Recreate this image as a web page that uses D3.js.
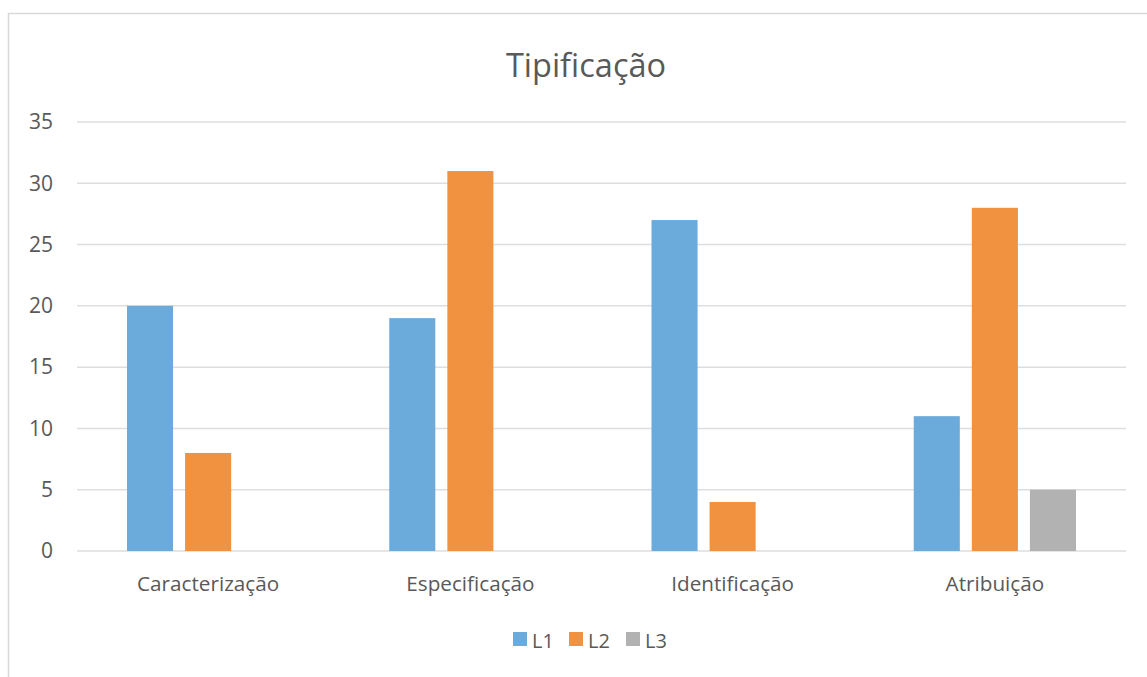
<!DOCTYPE html>
<html>
<head>
<meta charset="utf-8">
<script src="https://cdn.jsdelivr.net/npm/d3@7"></script>
<style>
  html, body { margin: 0; padding: 0; background: #fff; }
  svg { display: block; }
  text { font-family: "Open Sans", "DejaVu Sans", sans-serif; fill: #595959; }
</style>
</head>
<body>
<svg id="chart" width="1147" height="677"></svg>
<script>
// Chart data
const title = "Tipificação";
const categories = ["Caracterização", "Especificação", "Identificação", "Atribuição"];
const seriesNames = ["L1", "L2", "L3"];
const valuesL1 = [20, 19, 27, 11];
const valuesL2 = [8, 31, 4, 28];
const valuesL3 = [0, 0, 0, 5];
const yTicks = [0, 5, 10, 15, 20, 25, 30, 35];
const colors = ["#6aabdb", "#f19240", "#b2b2b2"];

const seriesValues = [valuesL1, valuesL2, valuesL3];

const W = 1147, H = 677;
const plot = { left: 77, right: 1126, top: 122, bottom: 551 };

const svg = d3.select("#chart");

// Outer chart border
svg.append("rect")
  .attr("x", 8.5).attr("y", 13.5)
  .attr("width", W + 20).attr("height", H + 20)
  .attr("fill", "none")
  .attr("stroke", "#d9d9d9")
  .attr("stroke-width", 1.5);

const y = d3.scaleLinear().domain([0, 35]).range([plot.bottom, plot.top]);

const x0 = d3.scaleBand().domain(categories).range([plot.left, plot.right]).padding(0);
const groupPad = 50;
const x1 = d3.scaleBand().domain(seriesNames)
  .range([groupPad, x0.bandwidth() - groupPad])
  .paddingInner(0.207).paddingOuter(0);

// Gridlines
svg.append("g")
  .selectAll("line")
  .data(yTicks)
  .join("line")
  .attr("x1", plot.left).attr("x2", plot.right)
  .attr("y1", d => y(d)).attr("y2", d => y(d))
  .attr("stroke", "#dedede")
  .attr("stroke-width", 1.5);

// Y axis labels
const yAxis = d3.axisLeft(y).tickValues(yTicks).tickSize(0).tickPadding(0);
const gy = svg.append("g").attr("transform", `translate(53,0)`).call(yAxis);
gy.select(".domain").remove();
gy.selectAll("text")
  .attr("font-size", 21)
  .attr("font-family", null)
  .style("fill", "#595959");

// Bars
const groups = svg.append("g")
  .selectAll("g")
  .data(categories)
  .join("g")
  .attr("transform", d => `translate(${x0(d)},0)`);

groups.selectAll("rect")
  .data((c, i) => seriesNames.map((s, j) => ({ s, j, v: seriesValues[j][i] })))
  .join("rect")
  .filter(d => d.v > 0)
  .attr("x", d => x1(d.s))
  .attr("width", x1.bandwidth())
  .attr("y", d => y(d.v))
  .attr("height", d => y(0) - y(d.v))
  .attr("fill", d => colors[d.j]);

// X axis labels
const xAxis = d3.axisBottom(x0).tickSize(0).tickPadding(0);
const gx = svg.append("g").attr("transform", `translate(0,${plot.bottom})`).call(xAxis);
gx.select(".domain").remove();
gx.selectAll("text")
  .attr("y", 40)
  .attr("dy", null)
  .attr("font-size", 20.7)
  .attr("font-family", null)
  .style("fill", "#595959");

// Title
svg.append("text")
  .attr("x", 586).attr("y", 77)
  .attr("text-anchor", "middle")
  .attr("font-size", 32.5)
  .text(title);

// Legend
const legendX = [513, 569, 626];
const legend = svg.append("g")
  .selectAll("g")
  .data(seriesNames)
  .join("g")
  .attr("transform", (d, i) => `translate(${legendX[i]},632)`);
legend.append("rect")
  .attr("width", 14).attr("height", 14)
  .attr("fill", (d, i) => colors[i]);
legend.append("text")
  .attr("x", 19).attr("y", 16)
  .attr("font-size", 20)
  .text(d => d);
</script>
</body>
</html>
